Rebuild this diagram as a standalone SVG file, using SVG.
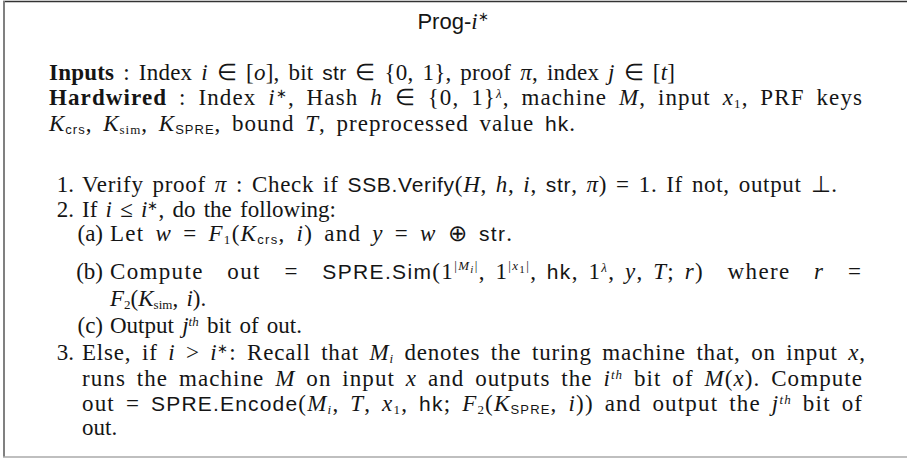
<svg xmlns="http://www.w3.org/2000/svg" width="907" height="461" viewBox="0 0 907 461">
<style>
text{font-family:"Liberation Serif","Times New Roman",serif;font-size:23px;fill:#151515;word-spacing:2.5px}
.b{font-weight:bold}
.i{font-style:italic}
.s{font-family:"Liberation Sans",Arial,sans-serif;font-size:21px}
.sm{font-size:13px}
.xs{font-size:11px}
.ss{font-family:"Liberation Sans",Arial,sans-serif;font-size:13px}
.lbl{text-anchor:end;word-spacing:0}
.w3{word-spacing:3px}
.w4{word-spacing:4px}
.w5{word-spacing:5px}
</style>
<g id="frame">
<line x1="3" y1="1.5" x2="907" y2="1.5" stroke="#333" stroke-width="1.5"/>
<line x1="4" y1="1" x2="4" y2="457" stroke="#808080" stroke-width="2"/>
<line x1="3" y1="457" x2="907" y2="457" stroke="#aaa" stroke-width="1.5"/>
</g>
<g id="title">
<text x="453" y="29" text-anchor="middle"><tspan class="s" style="font-size:22px">Prog-</tspan><tspan class="i">i</tspan><tspan class="sm" dy="-8">∗</tspan></text>
</g>
<g id="header">
<text class="w3" x="49" y="80" textLength="626" lengthAdjust="spacing"><tspan class="b">Inputs</tspan> : Index <tspan class="i">i</tspan> ∈ [<tspan class="i">o</tspan>], bit <tspan class="s">str</tspan> ∈ {0, 1}, proof <tspan class="i">π</tspan>, index <tspan class="i">j</tspan> ∈ [<tspan class="i">t</tspan>]</text>
<text class="w5" x="49" y="105" textLength="813" lengthAdjust="spacing"><tspan class="b">Hardwired</tspan> : Index <tspan class="i">i</tspan><tspan class="sm" dy="-7">∗</tspan><tspan dy="7">, Hash </tspan><tspan class="i">h</tspan> ∈ {0, 1}<tspan class="sm i" dy="-7">λ</tspan><tspan dy="7">, machine </tspan><tspan class="i">M</tspan>, input <tspan class="i">x</tspan><tspan class="sm" dy="3">1</tspan><tspan dy="-3">, PRF keys</tspan></text>
<text class="w4" x="49" y="131" textLength="526" lengthAdjust="spacing"><tspan class="i">K</tspan><tspan class="ss" dy="3">crs</tspan><tspan dy="-3">, </tspan><tspan class="i">K</tspan><tspan class="sm" dy="3">sim</tspan><tspan dy="-3">, </tspan><tspan class="i">K</tspan><tspan class="ss" dy="3">SPRE</tspan><tspan dy="-3">, bound </tspan><tspan class="i">T</tspan>, preprocessed value <tspan class="s">hk</tspan>.</text>
</g>
<g id="steps">
<text class="lbl" x="74" y="192">1.</text>
<text x="82" y="192" textLength="755" lengthAdjust="spacing">Verify proof <tspan class="i">π</tspan> : Check if <tspan class="s">SSB.Verify</tspan>(<tspan class="i">H</tspan>, <tspan class="i">h</tspan>, <tspan class="i">i</tspan>, <tspan class="s">str</tspan>, <tspan class="i">π</tspan>) = 1. If not, output ⊥.</text>
<text class="lbl" x="74" y="217">2.</text>
<text x="82" y="217">If <tspan class="i">i</tspan> ≤ <tspan class="i">i</tspan><tspan class="sm" dy="-7">∗</tspan><tspan dy="7">, do the following:</tspan></text>
<text class="lbl" x="103" y="241">(a)</text>
<text class="w4" x="110" y="241" textLength="402" lengthAdjust="spacing">Let <tspan class="i">w</tspan> = <tspan class="i">F</tspan><tspan class="sm" dy="3">1</tspan><tspan dy="-3">(</tspan><tspan class="i">K</tspan><tspan class="ss" dy="3">crs</tspan><tspan dy="-3">, </tspan><tspan class="i">i</tspan>) and <tspan class="i">y</tspan> = <tspan class="i">w</tspan> ⊕ <tspan class="s">str</tspan>.</text>
<text class="lbl" x="103" y="279">(b)</text>
<text x="110" y="279" textLength="751" lengthAdjust="spacing">Compute<tspan dx="14"> out</tspan><tspan dx="14"> =</tspan><tspan dx="14"> </tspan><tspan class="s">SPRE.Sim</tspan>(1<tspan class="sm" dy="-9">|</tspan><tspan class="sm i">M</tspan><tspan class="xs i" dy="3">i</tspan><tspan class="sm" dy="-3">|</tspan><tspan dy="9">, 1</tspan><tspan class="sm" dy="-9">|</tspan><tspan class="sm i">x</tspan><tspan class="xs" dy="3">1</tspan><tspan class="sm" dy="-3">|</tspan><tspan dy="9">, </tspan><tspan class="s">hk</tspan>, 1<tspan class="sm i" dy="-7">λ</tspan><tspan dy="7">, </tspan><tspan class="i">y</tspan>, <tspan class="i">T</tspan>; <tspan class="i">r</tspan>)<tspan dx="14"> where</tspan><tspan dx="14"> </tspan><tspan class="i">r</tspan><tspan dx="14"> =</tspan></text>
<text x="110" y="306"><tspan class="i">F</tspan><tspan class="sm" dy="3">2</tspan><tspan dy="-3">(</tspan><tspan class="i">K</tspan><tspan class="sm" dy="3">sim</tspan><tspan dy="-3">, </tspan><tspan class="i">i</tspan>).</text>
<text class="lbl" x="103" y="333">(c)</text>
<text x="110" y="333">Output <tspan class="i">j</tspan><tspan class="sm i" dy="-7">th</tspan><tspan dy="7"> bit of out.</tspan></text>
<text class="lbl" x="74" y="360">3.</text>
<text class="w4" x="82" y="360" textLength="783" lengthAdjust="spacing">Else, if <tspan class="i">i</tspan> &gt; <tspan class="i">i</tspan><tspan class="sm" dy="-7">∗</tspan><tspan dy="7">: Recall that </tspan><tspan class="i">M</tspan><tspan class="sm i" dy="3">i</tspan><tspan dy="-3"> denotes the turing machine that, on input </tspan><tspan class="i">x</tspan>,</text>
<text class="w4" x="82" y="386" textLength="780" lengthAdjust="spacing">runs the machine <tspan class="i">M</tspan> on input <tspan class="i">x</tspan> and outputs the <tspan class="i">i</tspan><tspan class="sm i" dy="-7">th</tspan><tspan dy="7"> bit of </tspan><tspan class="i">M</tspan>(<tspan class="i">x</tspan>). Compute</text>
<text class="w4" x="82" y="411" textLength="780" lengthAdjust="spacing">out = <tspan class="s">SPRE.Encode</tspan>(<tspan class="i">M</tspan><tspan class="sm i" dy="3">i</tspan><tspan dy="-3">, </tspan><tspan class="i">T</tspan>, <tspan class="i">x</tspan><tspan class="sm" dy="3">1</tspan><tspan dy="-3">, </tspan><tspan class="s">hk</tspan>; <tspan class="i">F</tspan><tspan class="sm" dy="3">2</tspan><tspan dy="-3">(</tspan><tspan class="i">K</tspan><tspan class="ss" dy="3">SPRE</tspan><tspan dy="-3">, </tspan><tspan class="i">i</tspan>)) and output the <tspan class="i">j</tspan><tspan class="sm i" dy="-7">th</tspan><tspan dy="7"> bit of</tspan></text>
<text x="82" y="435">out.</text>
</g>
</svg>
